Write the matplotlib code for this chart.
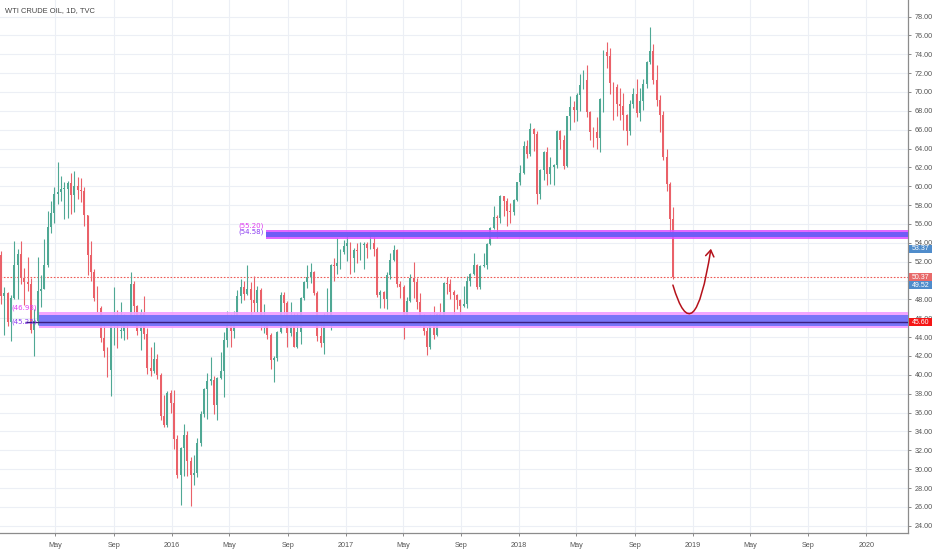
import matplotlib
matplotlib.use('Agg')
import matplotlib.pyplot as plt
import matplotlib.dates as mdates
from matplotlib.patches import Rectangle, FancyArrowPatch
from matplotlib.path import Path
from matplotlib.transforms import blended_transform_factory
import numpy as np
import pandas as pd

plt.rcParams['font.family'] = ['Liberation Sans', 'DejaVu Sans']

# ---------------- data: weekly OHLC of WTI ----------------
first_week_end = '2015-01-09'

opens = [
    # 2015
    52.7, 48.4, 48.7, 45.6, 48.2, 51.7, 52.8, 50.3, 49.8, 49.6, 44.8, 45.7, 48.9,
    49.1, 51.6, 55.7, 57.2, 59.2, 59.4, 59.7, 59.7, 60.3, 59.1, 60.0, 59.6, 59.5,
    56.9, 52.7, 50.9, 48.1, 47.1, 43.9, 42.5, 40.5, 45.2, 46.1, 44.6, 44.7, 45.7,
    45.5, 49.6, 47.3, 44.6, 46.6, 44.3, 40.7, 40.4, 41.7, 40.0, 35.6, 34.7, 38.1,
    # 2016
    37.0, 33.2, 29.4, 32.2, 33.6, 30.9, 29.4, 29.6, 32.8, 35.9, 38.5, 39.4, 39.5,
    36.8, 39.7, 40.4, 43.7, 45.9, 44.7, 46.2, 48.4, 49.3, 48.6, 49.1, 47.9, 47.6,
    49.0, 45.4, 46.0, 44.2, 41.6, 41.8, 44.5, 48.5, 47.6, 44.4, 45.9, 43.0, 44.5,
    48.2, 49.8, 50.4, 50.9, 48.7, 44.1, 43.4, 45.7, 46.1, 51.7, 51.5, 51.9, 53.0,
    # 2017
    53.7, 54.0, 52.4, 53.2, 53.1, 53.8, 53.9, 53.4, 54.0, 53.3, 48.5, 48.8, 48.0,
    50.6, 52.2, 53.2, 49.6, 49.3, 46.2, 47.8, 50.3, 49.8, 47.7, 45.8, 44.7, 43.0,
    46.0, 44.2, 46.5, 45.8, 49.7, 49.6, 48.8, 48.5, 47.9, 47.3, 47.5, 49.9, 50.7,
    51.7, 49.3, 51.5, 51.6, 53.9, 55.6, 56.7, 56.6, 58.95, 58.4, 57.4, 57.3, 58.5,
    # 2018
    60.4, 61.4, 64.3, 63.4, 66.1, 65.5, 59.2, 61.7, 63.6, 61.3, 62.0, 62.3, 65.9,
    64.9, 62.1, 67.4, 68.4, 68.1, 69.7, 70.7, 71.3, 67.9, 65.8, 65.7, 65.1, 69.3,
    74.2, 73.8, 71.0, 70.5, 68.7, 68.5, 67.6, 65.9, 68.7, 69.8, 67.8, 69.0, 70.8,
    73.2, 74.3, 71.3, 69.1, 67.6, 63.1, 60.2, 56.5,
]

highs = [
    # 2015
    53.1, 49.3, 48.8, 48.5, 54.2, 53.3, 54.2, 51.3, 52.5, 50.3, 47.0, 52.5, 50.6,
    54.4, 57.4, 58.4, 59.9, 62.6, 61.1, 60.4, 60.6, 61.4, 61.6, 61.0, 60.9, 59.9,
    57.0, 54.2, 51.2, 49.4, 47.3, 45.6, 42.9, 45.5, 49.3, 46.9, 47.7, 46.5, 46.0,
    50.9, 49.9, 47.4, 47.0, 48.4, 45.0, 42.9, 43.5, 42.2, 40.2, 37.9, 38.3, 38.4,
    # 2016
    38.4, 33.6, 32.3, 34.8, 34.0, 31.3, 31.5, 33.3, 36.2, 38.6, 40.2, 41.9, 39.9,
    39.8, 42.4, 44.5, 46.8, 46.5, 46.8, 49.0, 50.2, 50.0, 51.7, 49.8, 50.5, 49.4,
    49.2, 47.5, 46.3, 44.4, 42.0, 44.6, 48.8, 48.8, 47.8, 47.7, 46.6, 46.6, 48.3,
    50.0, 51.6, 51.9, 51.0, 48.9, 45.9, 46.6, 49.2, 51.8, 52.4, 54.5, 53.3, 54.3,
    # 2017
    55.2, 54.1, 53.5, 54.0, 54.1, 54.1, 54.1, 55.0, 54.6, 53.6, 49.0, 48.9, 50.9,
    52.9, 53.8, 53.3, 50.0, 49.5, 48.3, 50.7, 52.0, 50.3, 48.7, 46.4, 45.1, 46.5,
    47.3, 46.6, 47.6, 49.8, 50.4, 50.2, 49.0, 48.6, 48.0, 49.4, 50.5, 50.8, 52.9,
    51.8, 51.6, 52.9, 54.0, 55.7, 57.9, 57.0, 59.05, 59.0, 58.8, 58.2, 58.6, 60.5,
    # 2018
    62.2, 64.8, 64.9, 66.7, 66.2, 65.9, 61.8, 63.7, 64.2, 63.1, 62.4, 66.0, 66.0,
    65.4, 67.5, 69.6, 69.0, 69.9, 71.9, 72.3, 72.9, 68.0, 66.3, 67.3, 69.4, 74.5,
    75.3, 74.7, 71.1, 70.8, 70.4, 69.9, 67.7, 69.1, 70.4, 71.4, 70.4, 71.4, 73.3,
    76.9, 75.1, 72.9, 69.7, 68.0, 63.9, 60.4, 57.8,
]

lows = [
    # 2015
    47.5, 44.2, 45.2, 43.6, 48.0, 48.0, 49.6, 47.4, 48.9, 44.4, 42.0, 45.3, 47.2,
    49.1, 51.4, 55.0, 56.1, 58.1, 58.4, 56.5, 56.6, 57.1, 57.3, 58.7, 58.3, 55.8,
    50.6, 50.0, 47.8, 46.7, 43.5, 41.9, 39.8, 37.8, 43.2, 42.8, 43.9, 43.7, 43.8,
    45.3, 45.3, 44.2, 42.6, 43.8, 40.1, 39.9, 40.2, 39.6, 35.2, 34.5, 34.5, 36.0,
    # 2016
    32.1, 29.1, 26.2, 29.3, 29.3, 26.1, 28.3, 29.2, 32.5, 35.5, 35.3, 38.9, 35.8,
    35.2, 39.6, 37.6, 42.9, 43.0, 43.9, 46.1, 47.6, 47.9, 48.5, 46.0, 46.7, 46.7,
    44.8, 44.4, 43.8, 40.6, 39.2, 41.5, 44.4, 46.0, 43.0, 44.1, 42.9, 42.8, 43.3,
    47.9, 49.2, 49.7, 48.5, 43.6, 43.0, 42.2, 45.3, 44.8, 49.9, 50.7, 51.2, 52.8,
    # 2017
    52.1, 50.7, 50.9, 51.9, 52.2, 51.2, 52.4, 53.3, 52.6, 48.3, 47.1, 47.1, 47.0,
    50.2, 52.1, 49.3, 48.2, 43.8, 45.7, 47.7, 48.2, 47.0, 45.2, 44.2, 42.1, 42.7,
    43.8, 44.1, 45.4, 45.4, 48.6, 48.0, 46.5, 47.0, 45.6, 47.2, 47.1, 49.4, 50.6,
    49.1, 49.1, 51.4, 51.2, 53.8, 55.5, 54.5, 56.1, 56.8, 55.8, 56.1, 57.0, 58.4,
    # 2018
    60.1, 61.3, 63.0, 63.2, 63.7, 58.1, 58.6, 60.7, 60.1, 60.2, 60.1, 61.9, 63.9,
    61.8, 62.0, 66.0, 66.8, 66.9, 68.0, 70.3, 67.3, 64.9, 64.2, 64.0, 63.6, 67.9,
    72.5, 69.8, 67.0, 67.4, 67.0, 66.0, 64.4, 65.4, 68.3, 67.3, 66.9, 68.1, 70.4,
    73.0, 70.8, 68.5, 65.7, 62.8, 59.5, 54.8, 50.2,
]

closes = [
    # 2015
    48.4, 48.7, 45.6, 48.2, 51.7, 52.8, 50.3, 49.8, 49.6, 44.8, 45.7, 48.9, 49.1,
    51.6, 55.7, 57.2, 59.2, 59.4, 59.7, 59.7, 60.3, 59.1, 60.0, 59.6, 59.5, 56.9,
    52.7, 50.9, 48.1, 47.1, 43.9, 42.5, 40.5, 45.2, 46.1, 44.6, 44.7, 45.7, 45.5,
    49.6, 47.3, 44.6, 46.6, 44.3, 40.7, 40.4, 41.7, 40.0, 35.6, 34.7, 38.1, 37.0,
    # 2016
    33.2, 29.4, 32.2, 33.6, 30.9, 29.4, 29.6, 32.8, 35.9, 38.5, 39.4, 39.5, 36.8,
    39.7, 40.4, 43.7, 45.9, 44.7, 46.2, 48.4, 49.3, 48.6, 49.1, 47.9, 47.6, 49.0,
    45.4, 46.0, 44.2, 41.6, 41.8, 44.5, 48.5, 47.6, 44.4, 45.9, 43.0, 44.5, 48.2,
    49.8, 50.4, 50.9, 48.7, 44.1, 43.4, 45.7, 46.1, 51.7, 51.5, 51.9, 53.0, 53.7,
    # 2017
    54.0, 52.4, 53.2, 53.1, 53.8, 53.9, 53.4, 54.0, 53.3, 48.5, 48.8, 48.0, 50.6,
    52.2, 53.2, 49.6, 49.3, 46.2, 47.8, 50.3, 49.8, 47.7, 45.8, 44.7, 43.0, 46.0,
    44.2, 46.5, 45.8, 49.7, 49.6, 48.8, 48.5, 47.9, 47.3, 47.5, 49.9, 50.7, 51.7,
    49.3, 51.5, 51.6, 53.9, 55.6, 56.7, 56.6, 58.95, 58.4, 57.4, 57.3, 58.5, 60.4,
    # 2018
    61.4, 64.3, 63.4, 66.1, 65.5, 59.2, 61.7, 63.6, 61.3, 62.0, 62.3, 65.9, 64.9,
    62.1, 67.4, 68.4, 68.1, 69.7, 70.7, 71.3, 67.9, 65.8, 65.7, 65.1, 69.3, 74.2,
    73.8, 71.0, 70.5, 68.7, 68.5, 67.6, 65.9, 68.7, 69.8, 67.8, 69.0, 70.8, 73.2,
    74.3, 71.3, 69.1, 67.6, 63.1, 60.2, 56.5, 50.37,
]

# annotation levels drawn on the chart
upper_zone = (54.58, 55.20)
lower_zone = (45.23, 46.98)
ray_level = 45.60
last_price = 50.37
curve_start = ('2018-11-20', 49.52)
curve_end = ('2019-02-08', 53.37)
price_tags = [53.37, 50.37, 49.52, 45.60]
y_ticks = list(range(24, 79, 2))
title = 'WTI CRUDE OIL, 1D, TVC'

# ---------------- figure ----------------
W, H = 932, 550
fig = plt.figure(figsize=(W / 100, H / 100), dpi=100)
ax_bottom_px = 532.7
ax_right_px = 908.3
ax = fig.add_axes([0, 1 - ax_bottom_px / H, ax_right_px / W, ax_bottom_px / H])

o = np.array(opens); h = np.array(highs); l = np.array(lows); c = np.array(closes)
n = len(c)
dates = pd.date_range(first_week_end, periods=n, freq='W-FRI') - pd.Timedelta(days=2)
x = mdates.date2num(dates.to_pydatetime())

UP, DOWN = '#4fa894', '#ea6169'
cols = np.where(c >= o, UP, DOWN)
ax.vlines(x, l, h, colors=cols, linewidth=0.8, zorder=3)
body_h = np.maximum(np.abs(c - o), 0.12)
ax.bar(x, body_h, bottom=np.minimum(o, c), width=4.0, color=cols, linewidth=0, zorder=3)

# limits
xl = mdates.date2num(pd.Timestamp('2015-01-05'))
xr = mdates.date2num(pd.Timestamp('2020-03-29'))
ax.set_xlim(xl, xr)
ax.set_ylim(23.26, 79.75)

# grid & ticks
ticks, labels = [], []
for yr in range(2015, 2021):
    for m, lab in [(1, str(yr)), (5, 'May'), (9, 'Sep')]:
        t = mdates.date2num(pd.Timestamp(year=yr, month=m, day=1))
        if xl < t < xr:
            ticks.append(t)
            labels.append(lab)
ax.set_xticks(ticks)
ax.set_xticklabels(labels)
ax.set_yticks(y_ticks)
ax.set_yticklabels([f'{v:.2f}' for v in y_ticks])
ax.yaxis.tick_right()
ax.grid(True, color='#eceff5', linewidth=0.8, zorder=0)
ax.set_axisbelow(True)
ax.tick_params(axis='both', colors='#8a8a8a', labelcolor='#555555', labelsize=5.2,
               length=2.5, width=0.7)
ax.tick_params(axis='x', pad=4)
ax.tick_params(axis='y', pad=2)
for s in ['top', 'left']:
    ax.spines[s].set_visible(False)
for s in ['right', 'bottom']:
    ax.spines[s].set_color('#8c8c8c')
    ax.spines[s].set_linewidth(0.9)

# zones
def px_to_date(px):
    return mdates.date2num(pd.Timestamp('2016-01-01')) + (px - 171.7) / (173.7 / 365)

up_x0 = px_to_date(265.7)
lo_x0 = px_to_date(39.0)
ax.add_patch(Rectangle((up_x0, upper_zone[0] - 0.14), xr - up_x0 + 5,
                       upper_zone[1] - upper_zone[0] + 0.3, facecolor='#e04cff',
                       edgecolor='none', alpha=0.85, zorder=4))
ax.add_patch(Rectangle((up_x0, upper_zone[0] + 0.04), xr - up_x0 + 5,
                       upper_zone[1] - upper_zone[0] - 0.1, facecolor='#6b5cf6',
                       edgecolor='none', alpha=0.95, zorder=4))

ax.add_patch(Rectangle((lo_x0, lower_zone[0] - 0.25), xr - lo_x0 + 5, 1.64,
                       facecolor='#f29cff', edgecolor='none', alpha=0.9, zorder=4))
ax.add_patch(Rectangle((lo_x0, lower_zone[0] - 0.02), xr - lo_x0 + 5, 1.16,
                       facecolor='#7373f8', edgecolor='none', alpha=0.95, zorder=4))
ax.hlines(ray_level, px_to_date(25), xr, color='#3b1f80', linewidth=1.0, zorder=5)

# zone labels
ax.text(px_to_date(264), upper_zone[1] + 0.62, f'({upper_zone[1]:.2f})', ha='right', va='center',
        fontsize=5, color='#e03cf0', family='DejaVu Sans', zorder=6)
ax.text(px_to_date(264), upper_zone[0] + 0.6, f'({upper_zone[0]:.2f})', ha='right', va='center',
        fontsize=5, color='#8b3cf0', family='DejaVu Sans', zorder=6)
ax.text(px_to_date(37), lower_zone[1] + 0.11, f'({lower_zone[1]:.2f})', ha='right', va='center',
        fontsize=5, color='#e03cf0', family='DejaVu Sans', zorder=6)
ax.text(px_to_date(37), lower_zone[0] + 0.37, f'({lower_zone[0]:.2f})', ha='right', va='center',
        fontsize=5, color='#8b3cf0', family='DejaVu Sans', zorder=6)

# last price dotted line
ax.axhline(last_price, color='#ee5a55', linewidth=0.8, linestyle=(0, (1.5, 1.5)), zorder=2)

# curved arrow
p0 = (mdates.date2num(pd.Timestamp(curve_start[0])), curve_start[1])
p2 = (mdates.date2num(pd.Timestamp(curve_end[0])), curve_end[1])
p1 = (px_to_date(694.4), 41.95)
arrow = FancyArrowPatch(path=Path([p0, p1, p2], [Path.MOVETO, Path.CURVE3, Path.CURVE3]),
                        arrowstyle='->,head_length=0.45,head_width=0.3', mutation_scale=10,
                        color='#b5121b', linewidth=1.1, zorder=7)
ax.add_patch(arrow)

# price tags on right axis
trans = blended_transform_factory(fig.transFigure, ax.transData)
tag_cols = {53.37: '#4f8ccb', 50.37: '#e86a6a', 49.52: '#4f8ccb', 45.60: '#f51616'}
for v in price_tags:
    ax.add_patch(Rectangle((909.0 / W, v - 0.42), (W - 909.0) / W, 0.84, transform=trans,
                           facecolor=tag_cols[v], edgecolor='none', clip_on=False, zorder=10))
    ax.text(920.5 / W, v, f'{v:.2f}', transform=trans, ha='center', va='center',
            color='white', fontsize=5.0, clip_on=False, zorder=11)

fig.text(5 / W, 1 - 11 / H, title, fontsize=5.4, color='#444444', va='center', ha='left')

fig.savefig('out.png', dpi=100)
